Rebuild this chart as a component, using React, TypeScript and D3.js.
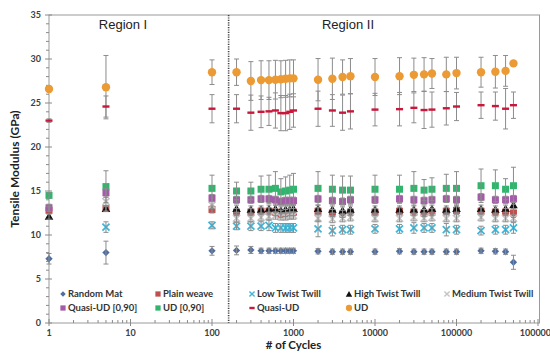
import React from 'react';
import * as d3 from 'd3';

const cycles = [1, 5, 100, 200, 300, 400, 500, 600, 700, 800, 900, 1000, 2000, 3000, 4000, 5000, 10000, 20000, 30000, 40000, 50000, 75000, 100000, 200000, 300000, 400000, 500000];

const randomMat = [7.3, 8.0, 8.2, 8.25, 8.3, 8.2, 8.2, 8.2, 8.2, 8.2, 8.2, 8.2, 8.15, 8.1, 8.1, 8.1, 8.1, 8.15, 8.1, 8.1, 8.1, 8.1, 8.1, 8.2, 8.15, 8.1, 6.9];
const randomMatErr = [0.6, 1.3, 0.5, 0.5, 0.4, 0.3, 0.3, 0.3, 0.3, 0.3, 0.3, 0.3, 0.3, 0.3, 0.3, 0.3, 0.3, 0.3, 0.3, 0.3, 0.3, 0.3, 0.3, 0.3, 0.3, 0.3, 0.8];

const plainWeave = [12.8, 13.0, 12.9, 12.6, 12.6, 12.7, 12.7, 12.6, 12.4, 12.5, 12.6, 12.6, 12.7, 12.5, 12.4, 12.6, 12.6, 12.7, 12.6, 12.5, 12.6, 12.7, 12.8, 12.7, 12.6, 12.6, 12.5];
const plainWeaveErr = [0.4, 0.3, 0.4, 0.4, 0.4, 0.4, 0.4, 0.4, 0.4, 0.4, 0.4, 0.4, 0.4, 0.4, 0.4, 0.4, 0.4, 0.4, 0.4, 0.4, 0.4, 0.4, 0.4, 0.4, 0.4, 0.4, 0.5];

const lowTwist = [null, 10.9, 11.1, 11.0, 11.0, 11.0, 11.1, 10.8, 10.8, 10.8, 10.8, 10.8, 10.7, 10.5, 10.6, 10.6, 10.7, 10.7, 10.8, 10.8, 10.8, 10.6, 10.6, 10.5, 10.6, 10.6, 10.8];
const lowTwistErr = [0, 0.6, 0.4, 0.4, 0.5, 0.5, 0.6, 0.5, 0.5, 0.5, 0.5, 0.5, 0.9, 0.6, 0.5, 0.5, 0.5, 0.5, 0.6, 0.5, 0.5, 0.7, 0.5, 0.5, 0.5, 0.5, 0.6];

const highTwist = [12.1, 13.0, null, 13.0, 12.9, 12.9, 13.0, 13.0, 12.8, 12.9, 12.9, 13.0, 13.0, 12.9, 12.8, 12.9, 12.9, 12.9, 12.9, 12.9, 13.0, 12.9, 13.0, 13.0, 12.9, 13.0, 13.4];
const highTwistErr = [0.3, 0.3, 0, 0.4, 0.4, 0.4, 0.4, 0.4, 0.4, 0.4, 0.4, 0.4, 0.4, 0.4, 0.4, 0.4, 0.4, 0.4, 0.4, 0.4, 0.4, 0.4, 0.4, 0.4, 0.4, 0.4, 0.4];

const mediumTwist = [null, 13.8, 13.4, 11.9, 11.9, 12.0, 12.1, 12.2, 12.1, 12.1, 12.2, 12.2, 11.9, 11.8, 11.9, 12.0, 11.9, 11.9, 12.0, 11.9, 12.0, 11.9, 11.9, 12.0, 11.9, 11.9, 11.9];
const mediumTwistErr = [0, 0.5, 0.4, 0.4, 0.4, 0.4, 0.4, 0.4, 0.4, 0.4, 0.4, 0.4, 0.4, 0.4, 0.4, 0.4, 0.4, 0.4, 0.4, 0.4, 0.4, 0.4, 0.4, 0.4, 0.4, 0.4, 0.4];

const quasiUd090 = [13.1, 14.8, 14.2, 14.0, 14.0, 14.1, 14.1, 14.0, 13.8, 13.9, 13.9, 13.9, 14.1, 13.9, 13.8, 14.0, 14.0, 14.1, 14.0, 13.9, 14.0, 14.1, 14.0, 14.3, 14.0, 14.0, 14.1];
const quasiUd090Err = [0.4, 0.5, 0.4, 0.4, 0.4, 0.4, 0.4, 0.4, 0.4, 0.4, 0.4, 0.4, 0.4, 0.4, 0.4, 0.4, 0.4, 0.4, 0.4, 0.4, 0.4, 0.4, 0.4, 0.4, 0.4, 0.4, 0.4];

const ud090 = [14.5, 15.5, 15.3, 15.0, 15.0, 15.2, 15.2, 15.3, 14.9, 15.0, 15.1, 15.2, 15.3, 15.2, 15.1, 15.1, 15.2, 15.2, 15.3, 15.1, 15.2, 15.3, 15.3, 15.6, 15.6, 15.2, 15.6];
const ud090Err = [0.3, 1.8, 1.5, 1.0, 1.0, 1.5, 1.6, 1.9, 1.5, 1.6, 1.7, 1.8, 1.9, 1.6, 1.6, 1.6, 1.6, 1.6, 1.9, 1.2, 1.3, 1.6, 1.9, 1.9, 1.8, 1.2, 2.1];

const quasiUd = [23.0, 24.6, 24.35, 24.35, 23.9, 24.0, 24.05, 24.15, 23.85, 23.85, 24.0, 24.15, 24.35, 24.15, 23.9, 24.05, 24.25, 24.3, 24.45, 24.2, 24.25, 24.4, 24.6, 24.75, 24.65, 24.35, 24.75];
const quasiUdErr = [0.2, 1.2, 1.6, 1.6, 2.0, 1.8, 1.6, 2.0, 2.0, 2.0, 2.0, 1.9, 2.0, 1.8, 2.0, 2.0, 1.85, 1.9, 1.7, 2.1, 2.0, 1.9, 1.6, 1.5, 1.6, 2.3, 1.5];

const ud = [26.6, 26.8, 28.5, 28.5, 27.5, 27.6, 27.6, 27.65, 27.7, 27.75, 27.8, 27.8, 27.65, 27.75, 27.95, 28.05, 27.95, 28.05, 28.2, 28.25, 28.35, 28.25, 28.4, 28.5, 28.55, 28.65, 29.5];
const udErr = [0.3, 3.6, 1.4, 1.5, 2.2, 2.2, 2.2, 2.2, 2.1, 2.1, 2.1, 2.1, 2.4, 2.35, 1.95, 2.0, 2.1, 2.1, 1.9, 1.9, 1.7, 1.95, 1.8, 1.7, 1.85, 1.75, 0];

const seriesNames = ['Random Mat', 'Plain weave', 'Low Twist Twill', 'High Twist Twill', 'Medium Twist Twill', 'Quasi-UD [0,90]', 'UD [0,90]', 'Quasi-UD', 'UD'];
const seriesValues = [randomMat, plainWeave, lowTwist, highTwist, mediumTwist, quasiUd090, ud090, quasiUd, ud];
const seriesErrors = [randomMatErr, plainWeaveErr, lowTwistErr, highTwistErr, mediumTwistErr, quasiUd090Err, ud090Err, quasiUdErr, udErr];
const seriesShapes = ['diamond', 'square', 'times', 'triangle', 'times', 'square', 'square', 'dash', 'circle'];
const seriesColors = ['#4E6EA2', '#C0504D', '#3FB6D8', '#111111', '#C4C4C4', '#A45CA8', '#2FB56C', '#C8173A', '#EC9A33'];

const yTicks = [0, 5, 10, 15, 20, 25, 30, 35];
const xMajorTicks = [1, 10, 100, 1000, 10000, 100000, 1000000];
const regionBoundary = 160;

const FONT = "Lato, 'Liberation Sans', Arial, sans-serif";

function Marker({ shape, color, cx, cy, s = 1 }: { shape: string; color: string; cx: number; cy: number; s?: number }) {
  if (shape === 'diamond') {
    const w = 5.2 * s;
    return <rect x={-w / 2} y={-w / 2} width={w} height={w} fill={color} transform={`translate(${cx},${cy}) rotate(45)`} />;
  }
  if (shape === 'square') {
    const w = 7 * s;
    return <rect x={cx - w / 2} y={cy - w / 2} width={w} height={w} fill={color} />;
  }
  if (shape === 'times') {
    const d = d3.symbol(d3.symbolTimes, 34 * s * s)() || '';
    return <path d={d} transform={`translate(${cx},${cy})`} fill="none" stroke={color} strokeWidth={1.8 * Math.max(s, 0.8)} />;
  }
  if (shape === 'triangle') {
    const d = d3.symbol(d3.symbolTriangle, 32 * s * s)() || '';
    return <path d={d} transform={`translate(${cx},${cy + 0.8})`} fill={color} />;
  }
  if (shape === 'dash') {
    const w = 7 * s;
    return <rect x={cx - w / 2} y={cy - 1.2} width={w} height={2.4} fill={color} />;
  }
  return <circle cx={cx} cy={cy} r={4.2 * s} fill={color} />;
}

export default function App() {
  const W = 550;
  const H = 360;
  const x = d3.scaleLog().domain([1, 1e6]).range([49, 538]);
  const y = d3.scaleLinear().domain([0, 35]).range([323, 15]);
  const [x0, x1] = x.range();
  const [yb, yt] = y.range();

  const minorX: number[] = [];
  for (let p = 0; p < 6; p++) {
    for (let k = 2; k <= 9; k++) minorX.push(k * Math.pow(10, p));
  }
  const minorY = d3.range(0, 36, 1).filter((v) => v % 5 !== 0);

  const errColor = '#8c8c8c';
  const capHalf = 2.5;

  const renderBars = (si: number) =>
    cycles.map((c, i) => {
      const v = seriesValues[si][i];
      const e = seriesErrors[si][i];
      if (v == null || !e) return null;
      const cx = x(c);
      const ya = y(v + e);
      const yb2 = y(v - e);
      return (
        <g key={`e${si}-${i}`} stroke={errColor} strokeWidth={1}>
          <line x1={cx} x2={cx} y1={ya} y2={yb2} />
          <line x1={cx - capHalf} x2={cx + capHalf} y1={ya} y2={ya} />
          <line x1={cx - capHalf} x2={cx + capHalf} y1={yb2} y2={yb2} />
        </g>
      );
    });

  const renderMarkers = (si: number) =>
    cycles.map((c, i) => {
      const v = seriesValues[si][i];
      if (v == null) return null;
      return <Marker key={`m${si}-${i}`} shape={seriesShapes[si]} color={seriesColors[si]} cx={x(c)} cy={y(v)} />;
    });

  const lowerSeries = [0, 1, 2, 3, 4, 5, 6];
  const upperSeries = [7, 8];

  const legendCols = [63, 158, 252, 349, 447];
  const legendRows = [294, 308];
  const legendItems = seriesNames.map((name, i) => {
    const row = i < 5 ? 0 : 1;
    const col = i < 5 ? i : i - 5;
    return { name, i, lx: legendCols[col], ly: legendRows[row] };
  });

  return (
    <div style={{ position: 'absolute', left: 0, top: 0 }}>
      <svg width={W} height={H} style={{ display: 'block', background: '#fff' }}>
        <rect x={x0} y={yt} width={x1 + 1.5 - x0} height={yb - yt} fill="none" stroke="#9a9a9a" strokeWidth={1} />

        {minorY.map((v) => (
          <line key={`my${v}`} x1={x0 - 3} x2={x0} y1={y(v)} y2={y(v)} stroke="#8a8a8a" strokeWidth={1} />
        ))}
        {yTicks.map((v) => (
          <g key={`y${v}`}>
            <line x1={x0 - 4} x2={x0 + 3} y1={y(v)} y2={y(v)} stroke="#8a8a8a" strokeWidth={1} />
            <text x={x0 - 8} y={y(v)} dy="0.35em" textAnchor="end" fontFamily={FONT} fontWeight={700} fontSize={9} fill="#404040">
              {v}
            </text>
          </g>
        ))}

        {minorX.map((v) => (
          <line key={`mx${v}`} x1={x(v)} x2={x(v)} y1={yb} y2={yb - 3} stroke="#8a8a8a" strokeWidth={1} />
        ))}
        {xMajorTicks.map((v) => (
          <g key={`x${v}`}>
            <line x1={x(v)} x2={x(v)} y1={yb - 4} y2={yb + 3} stroke="#8a8a8a" strokeWidth={1} />
            <text x={x(v)} y={yb + 13} textAnchor="middle" fontFamily={FONT} fontWeight={700} fontSize={9} fill="#404040">
              {String(v)}
            </text>
          </g>
        ))}

        <line x1={x(regionBoundary)} x2={x(regionBoundary)} y1={yt} y2={yb} stroke="#444" strokeWidth={1.6} strokeDasharray="1.2,1.2" />

        <text x={123} y={29} textAnchor="middle" fontFamily="'Liberation Sans', Arial, sans-serif" fontSize={13} fill="#222">
          Region I
        </text>
        <text x={348} y={29} textAnchor="middle" fontFamily="'Liberation Sans', Arial, sans-serif" fontSize={13} fill="#222">
          Region II
        </text>

        {lowerSeries.map((si) => (
          <g key={`lm${si}`}>{renderMarkers(si)}</g>
        ))}
        {lowerSeries.map((si) => (
          <g key={`lb${si}`}>{renderBars(si)}</g>
        ))}
        {upperSeries.map((si) => (
          <g key={`ub${si}`}>{renderBars(si)}</g>
        ))}
        {upperSeries.map((si) => (
          <g key={`um${si}`}>{renderMarkers(si)}</g>
        ))}

        {legendItems.map((it) => (
          <g key={`lg${it.i}`}>
            <Marker shape={seriesShapes[it.i]} color={seriesColors[it.i]} cx={it.lx} cy={it.ly} s={0.75} />
            <text x={it.lx + 5} y={it.ly} dy="0.35em" fontFamily={FONT} fontWeight={700} fontSize={9.5} fill="#333">
              {it.name}
            </text>
          </g>
        ))}

        <text x={(x0 + x1) / 2} y={349} textAnchor="middle" fontFamily={FONT} fontWeight={700} fontSize={11.5} fill="#222">
          # of Cycles
        </text>
        <text transform={`translate(19,${(yt + yb) / 2}) rotate(-90)`} textAnchor="middle" fontFamily={FONT} fontWeight={700} fontSize={12} fill="#222">
          Tensile Modulus (GPa)
        </text>
      </svg>
    </div>
  );
}
